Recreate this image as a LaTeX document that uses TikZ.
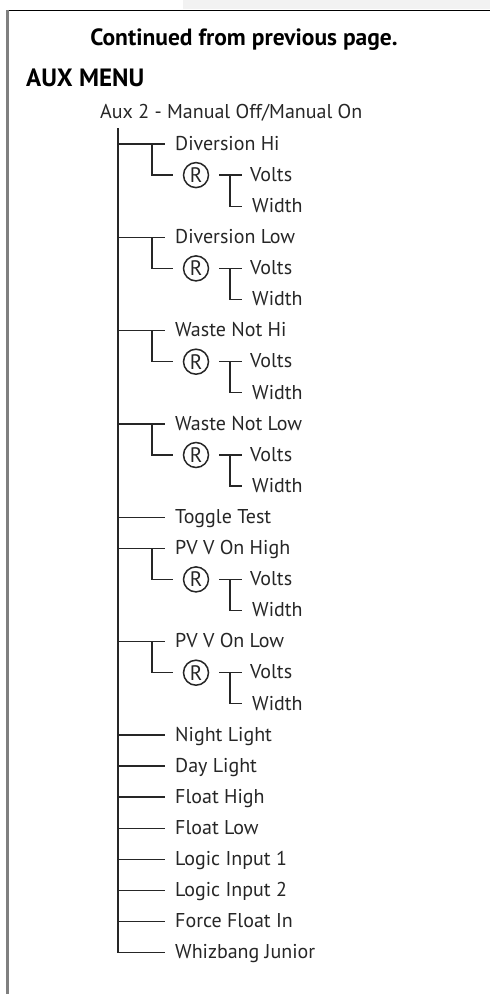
\documentclass[tikz,border=0pt]{standalone}
\usepackage{fontspec}
\setmainfont{PT Sans}
\begin{document}
\begin{tikzpicture}[x=1pt,y=-1pt,
  item/.style={anchor=west, inner sep=0pt, text height=12.5pt, text depth=0pt, text=black!85, font=\fontsize{20}{22}\selectfont},
  rmark/.style={circle, draw=black!85, line width=1.5pt, minimum size=25pt, inner sep=0pt, text=black!85, font=\fontsize{21}{22}\selectfont},
  conn/.style={draw=black!85, line width=1.3pt},
  title/.style={inner sep=0pt, text=black, font=\bfseries\fontsize{23.5}{26}\selectfont}]
\useasboundingbox (0,0) rectangle (490,994);
\fill[gray!10] (183,0) rectangle (490,9);
\draw[line width=1.5pt] (6,10.5) -- (490,10.5);
\draw[gray, line width=3pt] (7.5,9.8) -- (7.5,994);
\node[title] (cont) at (244,40) {Continued from previous page.};
\node[title, anchor=west, text height=12.5pt, text depth=0pt, font=\bfseries\fontsize{25}{27}\selectfont] (aux) at (26,80) {AUX MENU};
\node[item] (root) at (100,112) {Aux 2 - Manual Off/Manual On};
\coordinate (trunk) at (118,128);
\coordinate (sub) at (152,0);
\coordinate (tee) at (230,0);
\def\ys{31.1}
\foreach \k/\lab/\n in {0/Diversion Hi/a, 3/Diversion Low/b, 6/Waste Not Hi/c, 9/Waste Not Low/d, 13/PV V On High/e, 16/PV V On Low/f}{
  \node[item] (g\n) at (175,{144+\ys*\k}) {\lab};
  \node[rmark] (r\n) at (196,{144+\ys*(\k+1)}) {R};
  \node[item] (v\n) at (250,{144+\ys*(\k+1)}) {Volts};
  \node[item] (w\n) at (252,{144+\ys*(\k+2)}) {Width};
  \draw[conn] (trunk |- g\n.west) -- ([xshift=-10pt]g\n.west);
  \draw[conn] (sub |- g\n.west) |- ([xshift=-10pt]r\n.west);
  \draw[conn] ([xshift=10pt]r\n.east) -- ([xshift=-8pt]v\n.west);
  \draw[conn] (tee |- v\n.west) |- ([xshift=-10pt]w\n.west);
}
\foreach \k/\lab/\n in {12/Toggle Test/s1, 19/Night Light/s2, 20/Day Light/s3, 21/Float High/s4, 22/Float Low/s5, 23/Logic Input 1/s6, 24/Logic Input 2/s7, 25/Force Float In/s8, 26/Whizbang Junior/s9}{
  \node[item] (\n) at (175,{144+\ys*\k}) {\lab};
  \draw[conn] (trunk |- \n.west) -- ([xshift=-10pt]\n.west);
}
\draw[conn] (trunk) -- (trunk |- s9.west);
\end{tikzpicture}
\end{document}
